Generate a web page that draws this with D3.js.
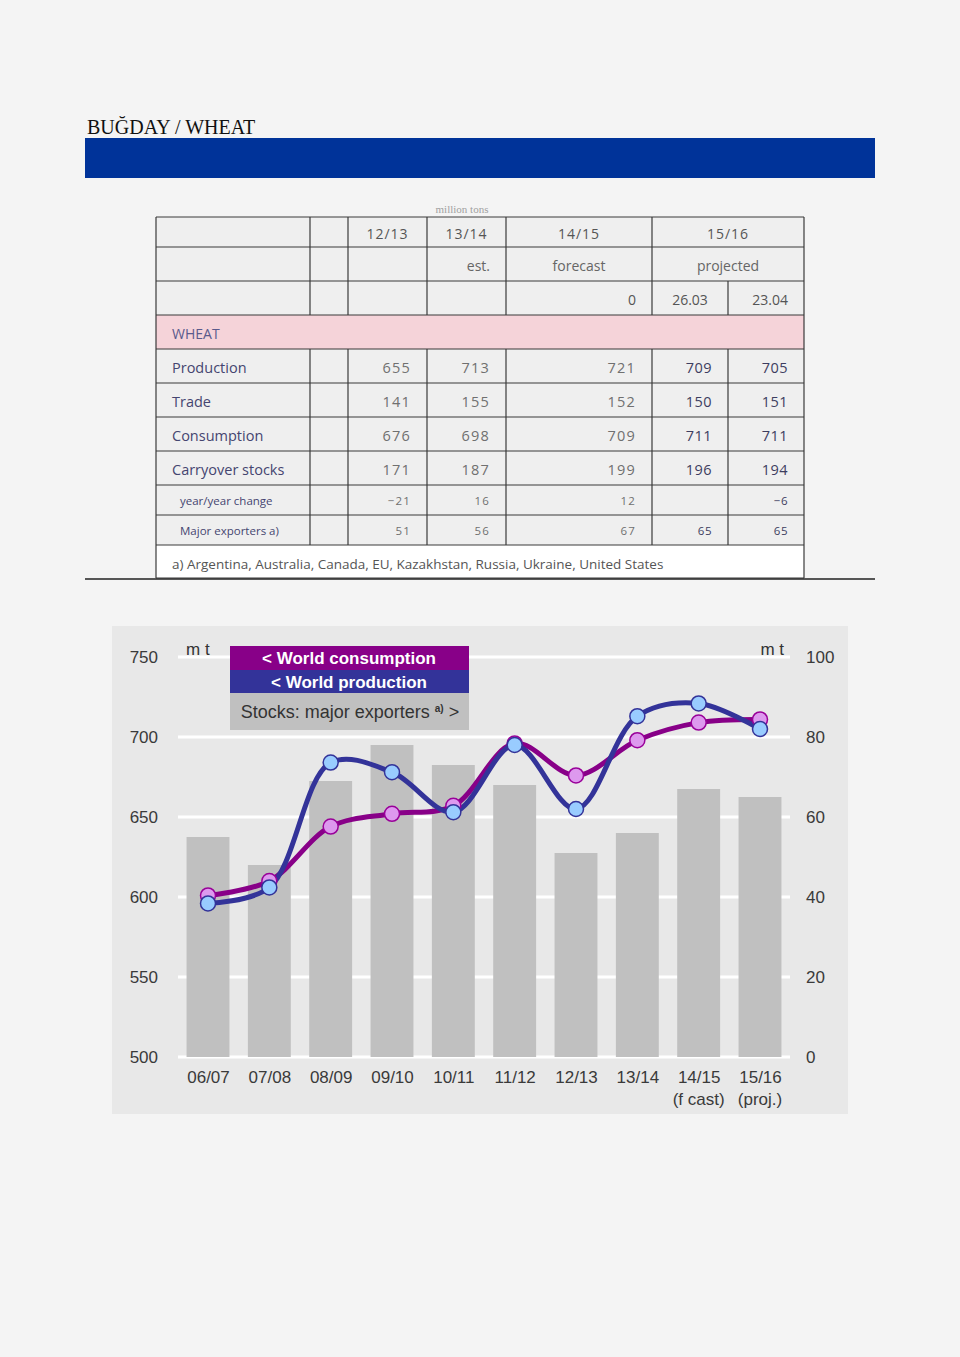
<!DOCTYPE html>
<html><head><meta charset="utf-8">
<script src="https://cdn.jsdelivr.net/npm/d3@7"></script>
<style>
html,body{margin:0;padding:0;background:#f4f4f4;}
svg{display:block;}
</style></head>
<body>
<svg id="c" width="960" height="1357"></svg>
<script>
// ---------- DATA ----------
const seasons = ["06/07","07/08","08/09","09/10","10/11","11/12","12/13","13/14","14/15","15/16"];
const seasonSub = ["","","","","","","","","(f cast)","(proj.)"];
const consumption = [601, 610, 644, 652, 657, 696, 676, 698, 709, 711];
const production  = [596, 606, 684, 678, 653, 695, 655, 713, 721, 705];
const stocksMajor = [55, 48, 69, 78, 73, 68, 51, 56, 67, 65];
const leftTicks = [500, 550, 600, 650, 700, 750];
const rightTicks = [0, 20, 40, 60, 80, 100];

const tableHead1 = ["12/13","13/14","14/15","15/16"];
const tableHead2 = ["","est.","forecast","projected"];
const tableHead3 = ["","","0","26.03","23.04"];
const rowLabels = ["Production","Trade","Consumption","Carryover stocks","year/year change","Major exporters a)"];
const rowProduction = ["655","713","721","709","705"];
const rowTrade = ["141","155","152","150","151"];
const rowConsumption = ["676","698","709","711","711"];
const rowStocks = ["171","187","199","196","194"];
const rowChange = ["-21","16","12","","-6"];
const rowMajor = ["51","56","67","65","65"];
const footnote = "a) Argentina, Australia, Canada, EU, Kazakhstan, Russia, Ukraine, United States";

// ---------- PAGE ----------
const svg = d3.select("#c");
svg.append("rect").attr("width",960).attr("height",1357).attr("fill","#f4f4f4");
svg.append("text").attr("x",87).attr("y",134)
  .attr("font-family","Liberation Serif, serif").attr("font-size",20).attr("fill","#111")
  .text("BUĞDAY / WHEAT");
svg.append("rect").attr("x",85).attr("y",138).attr("width",790).attr("height",40).attr("fill","#003399");

// ---------- TABLE ----------
const colX = [156,310,348,427,506,652,728,804];
const rowY = [217,247,281,315,349,383,417,451,485,515,545,578];
const T = svg.append("g").attr("font-family","Open Sans, sans-serif");
svg.append("text").attr("x",462).attr("y",213).attr("text-anchor","middle")
  .attr("font-family","Liberation Serif, serif").attr("font-size",11).attr("fill","#a0a0a0").text("million tons");

const lineC = "#3a3a3a";
T.append("rect").attr("x",colX[0]).attr("y",rowY[0]).attr("width",colX[7]-colX[0]).attr("height",rowY[10]-rowY[0]).attr("fill","#efefef");
T.append("rect").attr("x",colX[0]).attr("y",rowY[3]).attr("width",colX[7]-colX[0]).attr("height",rowY[4]-rowY[3]).attr("fill","#f5d3d9");
T.append("rect").attr("x",colX[0]).attr("y",rowY[10]).attr("width",colX[7]-colX[0]).attr("height",rowY[11]-rowY[10]).attr("fill","#ffffff");
rowY.forEach(y=>T.append("line").attr("x1",colX[0]).attr("x2",colX[7]).attr("y1",y).attr("y2",y).attr("stroke",lineC).attr("stroke-width",1.2));
function vline(x,y1,y2){T.append("line").attr("x1",x).attr("x2",x).attr("y1",y1).attr("y2",y2).attr("stroke",lineC).attr("stroke-width",1.2);}
vline(colX[0],rowY[0],rowY[11]); vline(colX[7],rowY[0],rowY[11]);
[1,2,3,4,5].forEach(i=>{vline(colX[i],rowY[0],rowY[3]); vline(colX[i],rowY[4],rowY[10]);});
vline(colX[6],rowY[2],rowY[3]); vline(colX[6],rowY[4],rowY[10]);

function txt(x,y,s,anchor,size,fill,weight,ls){
  T.append("text").attr("x",x).attr("y",y).attr("text-anchor",anchor||"start")
   .attr("font-size",size||14).attr("fill",fill||"#555").attr("font-weight",weight||"normal")
   .attr("letter-spacing",ls||0).text(s);
}
const cCenters = [(colX[2]+colX[3])/2,(colX[3]+colX[4])/2,(colX[4]+colX[5])/2,(colX[5]+colX[7])/2];
tableHead1.forEach((s,i)=>txt(cCenters[i],239,s,"middle",14,"#555","normal",1));
txt(colX[4]-16,271,tableHead2[1],"end",14,"#666");
txt(cCenters[2],271,tableHead2[2],"middle",14,"#666");
txt(cCenters[3],271,tableHead2[3],"middle",14,"#666");
txt(colX[5]-16,305,tableHead3[2],"end",14,"#555");
txt((colX[5]+colX[6])/2,305,tableHead3[3],"middle",14,"#555");
txt(colX[7]-16,305,tableHead3[4],"end",14,"#555");
txt(172,339,"WHEAT","start",14,"#5a5a8c");

const rightX = [colX[3]-16,colX[4]-16,colX[5]-16,colX[6]-16,colX[7]-16];
const bodyRows = [rowProduction,rowTrade,rowConsumption,rowStocks,rowChange,rowMajor];
bodyRows.forEach((vals,r)=>{
  const y0 = rowY[4+r], y1 = rowY[5+r];
  const small = r>=4;
  const by = (y0+y1)/2 + (small?4.5:6.5);
  txt(180 - (small?0:8), by, rowLabels[r], "start", small?11.5:14.5, "#454570", small?"normal":"500");
  vals.forEach((v,i)=>{
    const strong = i>=3;
    txt(rightX[i], by, v.replace("-","\u2212"), "end", small?11.5:14.5, strong?"#3d3d60":"#707070", strong?"500":"normal", strong?0.5:1.2);
  });
});
txt(172,569,footnote,"start",13.5,"#555");
svg.append("line").attr("x1",85).attr("x2",875).attr("y1",579).attr("y2",579).attr("stroke","#222").attr("stroke-width",1.3);

// ---------- CHART ----------
const C = svg.append("g").attr("font-family","Liberation Sans, Arial, sans-serif");
C.append("rect").attr("x",112).attr("y",626).attr("width",736).attr("height",488).attr("fill","#e8e8e8");

const x = d3.scalePoint().domain(seasons).range([208,760]);
const bw = x.step()*0.7;
const yL = d3.scaleLinear().domain([500,750]).range([1057,657]);
const yR = d3.scaleLinear().domain([0,100]).range([1057,657]);

C.append("g").selectAll("line").data(leftTicks).join("line")
  .attr("x1",178).attr("x2",790).attr("y1",d=>yL(d)).attr("y2",d=>yL(d))
  .attr("stroke","#ffffff").attr("stroke-width",3);

const axL = d3.axisLeft(yL).tickValues(leftTicks).tickSize(0).tickPadding(0);
const gL = C.append("g").attr("transform","translate(158,0)").call(axL);
gL.select(".domain").remove();
gL.selectAll("text").attr("font-size",17).attr("fill","#3a3a3a").attr("font-family","Liberation Sans, Arial, sans-serif").attr("dy","0.35em");
const axR = d3.axisRight(yR).tickValues(rightTicks).tickSize(0).tickPadding(0);
const gR = C.append("g").attr("transform","translate(806,0)").call(axR);
gR.select(".domain").remove();
gR.selectAll("text").attr("font-size",17).attr("fill","#3a3a3a").attr("font-family","Liberation Sans, Arial, sans-serif").attr("dy","0.35em");

C.append("g").selectAll("rect").data(stocksMajor).join("rect")
  .attr("x",(d,i)=>x(seasons[i])-bw/2).attr("width",bw)
  .attr("y",d=>yR(d)).attr("height",d=>yR(0)-yR(d)).attr("fill","#c0c0c0");

const xa = d3.axisBottom(x).tickSize(0).tickPadding(0);
const gX = C.append("g").attr("transform","translate(0,1071)").call(xa);
gX.select(".domain").remove();
gX.selectAll("text").attr("font-size",17).attr("fill","#3a3a3a").attr("font-family","Liberation Sans, Arial, sans-serif").attr("dy","0.71em");
C.append("g").selectAll("text").data(seasonSub).join("text")
  .attr("x",(d,i)=>x(seasons[i])).attr("y",1105).attr("text-anchor","middle")
  .attr("font-size",17).attr("fill","#3a3a3a").text(d=>d);

C.append("text").attr("x",186).attr("y",655).attr("font-size",17).attr("fill","#333").text("m t");
C.append("text").attr("x",784).attr("y",655).attr("text-anchor","end").attr("font-size",17).attr("fill","#333").text("m t");

const line = d3.line().x((d,i)=>x(seasons[i])).y(d=>yL(d)).curve(d3.curveCatmullRom.alpha(0.5));
C.append("path").attr("d",line(consumption)).attr("fill","none").attr("stroke","#880088").attr("stroke-width",5);
C.append("path").attr("d",line(production)).attr("fill","none").attr("stroke","#333399").attr("stroke-width",5);
C.append("g").selectAll("circle").data(consumption).join("circle")
  .attr("cx",(d,i)=>x(seasons[i])).attr("cy",d=>yL(d)).attr("r",7.5)
  .attr("fill","#dd99ee").attr("stroke","#990099").attr("stroke-width",1.5);
C.append("g").selectAll("circle").data(production).join("circle")
  .attr("cx",(d,i)=>x(seasons[i])).attr("cy",d=>yL(d)).attr("r",7.5)
  .attr("fill","#99ccff").attr("stroke","#333399").attr("stroke-width",1.5);

const L = C.append("g");
L.append("rect").attr("x",230).attr("y",646).attr("width",239).attr("height",24).attr("fill","#880088");
L.append("rect").attr("x",230).attr("y",670).attr("width",239).attr("height",23).attr("fill","#333399");
L.append("rect").attr("x",230).attr("y",693).attr("width",239).attr("height",37).attr("fill","#c0c0c0");
L.append("text").attr("x",349).attr("y",664).attr("text-anchor","middle").attr("font-size",17).attr("font-weight","bold").attr("fill","#fff").text("< World consumption");
L.append("text").attr("x",349).attr("y",688).attr("text-anchor","middle").attr("font-size",17).attr("font-weight","bold").attr("fill","#fff").text("< World production");
const st = L.append("text").attr("x",350).attr("y",718).attr("text-anchor","middle").attr("font-size",18).attr("fill","#333");
st.append("tspan").text("Stocks: major exporters ");
st.append("tspan").attr("font-size",10).attr("font-weight","bold").attr("dy",-6).text("a)");
st.append("tspan").attr("dy",6).text(" >");
</script>
</body></html>
